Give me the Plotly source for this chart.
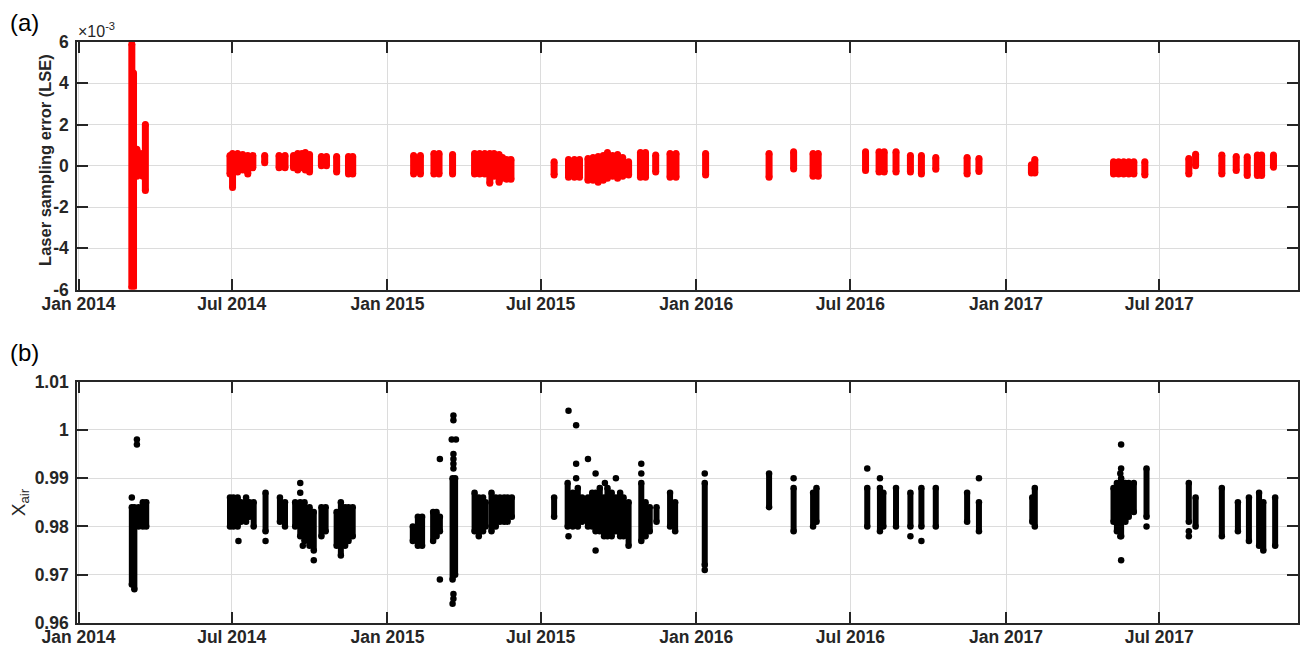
import plotly.graph_objects as go

# ---------------- data ----------------
# Panel (a): laser sampling error, values in units of 1e-3; each sampling day drawn as a column lo..hi
lse_dates = [
    "2014-03-05", "2014-03-07", "2014-03-11", "2014-03-14", "2014-03-18", "2014-03-21",
    "2014-06-29", "2014-07-02", "2014-07-08", "2014-07-14", "2014-07-20", "2014-07-26", "2014-08-09",
    "2014-08-26", "2014-09-02", "2014-09-12", "2014-09-17", "2014-09-22", "2014-09-26", "2014-10-01",
    "2014-10-15", "2014-10-21", "2014-11-02", "2014-11-16", "2014-11-21",
    "2015-02-01", "2015-02-09", "2015-02-25", "2015-03-03", "2015-03-19", "2015-04-14", "2015-04-20",
    "2015-04-26", "2015-05-02", "2015-05-07", "2015-05-13", "2015-05-17", "2015-05-22", "2015-05-27",
    "2015-07-17", "2015-08-03", "2015-08-10", "2015-08-16", "2015-08-26", "2015-09-01", "2015-09-07",
    "2015-09-13", "2015-09-18", "2015-09-24", "2015-09-30", "2015-10-06", "2015-10-13", "2015-10-27",
    "2015-11-02", "2015-11-14", "2015-12-01", "2015-12-08",
    "2016-01-12", "2016-03-27", "2016-04-25", "2016-05-18", "2016-05-24", "2016-07-19", "2016-08-04",
    "2016-08-10", "2016-08-24", "2016-09-10", "2016-09-23", "2016-10-10", "2016-11-16", "2016-11-30",
    "2017-01-31", "2017-02-04", "2017-05-08", "2017-05-14", "2017-05-20", "2017-05-26", "2017-06-01",
    "2017-06-14", "2017-08-05", "2017-08-13", "2017-09-13", "2017-09-30", "2017-10-13", "2017-10-25",
    "2017-10-30", "2017-11-13",
]
lse_low = [
    -5.9, -5.9, -0.5, -0.3, -0.5, -1.2,
    -0.4, -1.05, -0.3, -0.2, -0.4, -0.1, 0.15, -0.1, -0.1, -0.1, -0.2, -0.1, -0.2, -0.3,
    0.0, 0.0, -0.3, -0.4, -0.4,
    -0.4, -0.4, -0.4, -0.4, -0.4, -0.4, -0.4, -0.4, -0.85, -0.5, -0.8, -0.6, -0.65, -0.65,
    -0.45, -0.55, -0.55, -0.55, -0.7, -0.7, -0.8, -0.7, -0.6, -0.5, -0.6, -0.5, -0.45, -0.55,
    -0.55, -0.3, -0.55, -0.55,
    -0.45, -0.55, -0.15, -0.5, -0.5, -0.23, -0.3, -0.3, -0.3, -0.3, -0.4, -0.17, -0.4, -0.27,
    -0.35, -0.35, -0.4, -0.4, -0.4, -0.4, -0.4, -0.45, -0.4, 0.0, -0.4, -0.23, -0.47, -0.47,
    -0.47, -0.07,
]
lse_high = [
    5.9, 4.5, 0.8, 0.6, 0.6, 2.0,
    0.5, 0.6, 0.6, 0.55, 0.5, 0.5, 0.5, 0.5, 0.5, 0.5, 0.6, 0.6, 0.65, 0.55,
    0.45, 0.45, 0.45, 0.45, 0.45,
    0.5, 0.5, 0.6, 0.6, 0.55, 0.6, 0.6, 0.6, 0.6, 0.6, 0.55, 0.4, 0.3, 0.3,
    0.2, 0.3, 0.3, 0.3, 0.35, 0.4, 0.45, 0.5, 0.65, 0.5, 0.55, 0.4, 0.2, 0.65,
    0.65, 0.52, 0.6, 0.6,
    0.6, 0.6, 0.68, 0.6, 0.6, 0.68, 0.68, 0.68, 0.68, 0.5, 0.5, 0.4, 0.4, 0.36,
    0.05, 0.3, 0.2, 0.2, 0.2, 0.2, 0.2, 0.2, 0.36, 0.56, 0.52, 0.45, 0.44, 0.52,
    0.52, 0.52,
]

# Panel (b): X_air, each sampling day drawn as a column lo..hi, plus isolated points
xair_dates = [
    "2014-03-05", "2014-03-08", "2014-03-13", "2014-03-18", "2014-03-22",
    "2014-06-29", "2014-07-03", "2014-07-08", "2014-07-12", "2014-07-18", "2014-07-22", "2014-07-27",
    "2014-08-10", "2014-08-27", "2014-09-02", "2014-09-14", "2014-09-20", "2014-09-25", "2014-10-01",
    "2014-10-06", "2014-10-15", "2014-10-20", "2014-11-02", "2014-11-07", "2014-11-12", "2014-11-16",
    "2014-11-21",
    "2015-01-31", "2015-02-06", "2015-02-11", "2015-02-24", "2015-02-28", "2015-03-04", "2015-03-19",
    "2015-03-22", "2015-04-14", "2015-04-19", "2015-04-24", "2015-04-27", "2015-05-04", "2015-05-09",
    "2015-05-14", "2015-05-19", "2015-05-23", "2015-05-28",
    "2015-07-17", "2015-08-02", "2015-08-08", "2015-08-14", "2015-08-19", "2015-08-26", "2015-08-31",
    "2015-09-04", "2015-09-09", "2015-09-14", "2015-09-18", "2015-09-23", "2015-09-28", "2015-10-03",
    "2015-10-07", "2015-10-13", "2015-10-28", "2015-11-02", "2015-11-07", "2015-11-15", "2015-12-01",
    "2015-12-07",
    "2016-01-11", "2016-03-27", "2016-04-25", "2016-05-18", "2016-05-22", "2016-07-21", "2016-08-05",
    "2016-08-09", "2016-08-24", "2016-09-10", "2016-09-23", "2016-10-10", "2016-11-16", "2016-11-30",
    "2017-02-01", "2017-02-04", "2017-05-08", "2017-05-12", "2017-05-17", "2017-05-22", "2017-05-26",
    "2017-06-01", "2017-06-16", "2017-08-05", "2017-08-13", "2017-09-13", "2017-10-02", "2017-10-15",
    "2017-10-27", "2017-11-01", "2017-11-15",
]
xair_low = [
    0.968, 0.967, 0.980, 0.980, 0.980,
    0.980, 0.980, 0.980, 0.981, 0.981, 0.982, 0.980, 0.979, 0.981, 0.980, 0.980, 0.978, 0.977,
    0.976, 0.975, 0.978, 0.979, 0.976, 0.974, 0.976, 0.977, 0.978,
    0.977, 0.976, 0.976, 0.977, 0.978, 0.979, 0.969, 0.970, 0.979, 0.978, 0.979, 0.980, 0.979,
    0.980, 0.981, 0.981, 0.981, 0.982,
    0.982, 0.980, 0.980, 0.980, 0.981, 0.980, 0.980, 0.979, 0.979, 0.978, 0.978, 0.978, 0.979,
    0.978, 0.978, 0.976, 0.977, 0.978, 0.979, 0.981, 0.980, 0.979,
    0.972, 0.984, 0.979, 0.980, 0.981, 0.980, 0.979, 0.980, 0.980, 0.980, 0.980, 0.980, 0.981, 0.979,
    0.981, 0.980, 0.981, 0.979, 0.978, 0.981, 0.982, 0.983, 0.982, 0.981, 0.980, 0.978, 0.979,
    0.977, 0.976, 0.975, 0.976,
]
xair_high = [
    0.984, 0.984, 0.984, 0.985, 0.985,
    0.986, 0.986, 0.986, 0.985, 0.986, 0.985, 0.985, 0.987, 0.986, 0.985, 0.985, 0.985, 0.985,
    0.984, 0.983, 0.984, 0.984, 0.983, 0.985, 0.984, 0.984, 0.984,
    0.980, 0.982, 0.982, 0.983, 0.983, 0.982, 0.990, 0.990, 0.987, 0.986, 0.986, 0.985, 0.987,
    0.986, 0.986, 0.986, 0.986, 0.986,
    0.986, 0.989, 0.987, 0.988, 0.986, 0.986, 0.987, 0.987, 0.988, 0.986, 0.988, 0.987, 0.986,
    0.987, 0.986, 0.985, 0.989, 0.985, 0.984, 0.984, 0.987, 0.985,
    0.989, 0.991, 0.988, 0.987, 0.988, 0.988, 0.988, 0.987, 0.988, 0.987, 0.988, 0.988, 0.987, 0.985,
    0.986, 0.988, 0.988, 0.989, 0.990, 0.989, 0.989, 0.989, 0.992, 0.989, 0.986, 0.988, 0.985,
    0.986, 0.987, 0.985, 0.986,
]
xair_point_dates = [
    "2014-03-05", "2014-03-11", "2014-03-11",
    "2014-07-09", "2014-08-10", "2014-09-20", "2014-09-20", "2014-09-23", "2014-10-06",
    "2015-03-04", "2015-03-04", "2015-03-20", "2015-03-20", "2015-03-18", "2015-03-23", "2015-03-20",
    "2015-03-20", "2015-03-20", "2015-03-20", "2015-03-20", "2015-03-20", "2015-03-19",
    "2015-08-03", "2015-08-12", "2015-08-12", "2015-08-12", "2015-08-03", "2015-08-26", "2015-09-04",
    "2015-09-04", "2015-09-15", "2015-09-28", "2015-10-28", "2015-10-28",
    "2016-01-11", "2016-01-11", "2016-04-25", "2016-07-21", "2016-08-05", "2016-09-10", "2016-09-23",
    "2016-11-30",
    "2017-05-17", "2017-05-17", "2017-05-16", "2017-05-16", "2017-05-16", "2017-05-17", "2017-06-16",
    "2017-08-05", "2017-08-05",
]
xair_point_values = [
    0.986, 0.998, 0.997,
    0.977, 0.977, 0.989, 0.987, 0.976, 0.973,
    0.994, 0.969, 1.003, 1.002, 0.998, 0.998, 0.995,
    0.994, 0.993, 0.992, 0.966, 0.965, 0.964,
    1.004, 1.001, 0.993, 0.990, 0.978, 0.994, 0.991,
    0.975, 0.989, 0.990, 0.993, 0.991,
    0.991, 0.971, 0.990, 0.992, 0.990, 0.978, 0.977,
    0.990,
    0.997, 0.992, 0.991, 0.979, 0.978, 0.973, 0.980,
    0.979, 0.978,
]

x_tick_dates = ["2014-01-01", "2014-07-01", "2015-01-01", "2015-07-01",
                "2016-01-01", "2016-07-01", "2017-01-01", "2017-07-01"]
x_tick_labels = ["Jan 2014", "Jul 2014", "Jan 2015", "Jul 2015",
                 "Jan 2016", "Jul 2016", "Jan 2017", "Jul 2017"]
lse_ticks = [-6, -4, -2, 0, 2, 4, 6]
xair_ticks = [0.96, 0.97, 0.98, 0.99, 1.00, 1.01]
xair_tick_labels = ["0.96", "0.97", "0.98", "0.99", "1", "1.01"]


def columns(dates, lo, hi):
    xs, ys = [], []
    for d, a, b in zip(dates, lo, hi):
        xs += [d, d, None]
        ys += [a, b, None]
    return xs, ys


FONT = "Liberation Sans, Arial, Helvetica, sans-serif"
AX = "#262626"

fig = go.Figure()
lx, ly = columns(lse_dates, lse_low, lse_high)
fig.add_trace(go.Scatter(x=lx, y=ly, mode="lines+markers", xaxis="x", yaxis="y",
                         line=dict(color="#ff0000", width=7),
                         marker=dict(color="#ff0000", size=7),
                         showlegend=False, hoverinfo="skip"))
bx, by = columns(xair_dates, xair_low, xair_high)
fig.add_trace(go.Scatter(x=bx, y=by, mode="lines+markers", xaxis="x2", yaxis="y2",
                         line=dict(color="#000000", width=6),
                         marker=dict(color="#000000", size=6.5),
                         showlegend=False, hoverinfo="skip"))
fig.add_trace(go.Scatter(x=xair_point_dates, y=xair_point_values, mode="markers",
                         xaxis="x2", yaxis="y2",
                         marker=dict(color="#000000", size=6.5),
                         showlegend=False, hoverinfo="skip"))

tickfont = dict(family=FONT, size=17.5, color=AX, weight="bold")
common = dict(showline=True, linecolor=AX, linewidth=1.6, mirror="ticks",
              ticks="inside", ticklen=11, tickwidth=1.6, tickcolor=AX,
              showgrid=True, gridcolor="#dcdcdc", gridwidth=1.2, zeroline=False,
              tickfont=tickfont, automargin=False)
xrange = ["2013-12-30 05:00", "2017-12-12"]

# the page body adds an 8 px offset, so the figure is 8 px smaller on each side
fig.update_layout(
    width=1301, height=638,
    margin=dict(l=69, r=11, t=34, b=23),
    paper_bgcolor="white", plot_bgcolor="white",
    xaxis=dict(domain=[0, 1], anchor="y", type="date", range=xrange,
               tickmode="array", tickvals=x_tick_dates, ticktext=x_tick_labels,
               ticklabelstandoff=-2, **common),
    yaxis=dict(domain=[0.5738, 1], anchor="x", range=[-6, 6],
               tickmode="array", tickvals=lse_ticks, ticktext=[str(t) for t in lse_ticks],
               ticklabelstandoff=3, **common),
    xaxis2=dict(domain=[0, 1], anchor="y2", type="date", range=xrange,
                tickmode="array", tickvals=x_tick_dates, ticktext=x_tick_labels,
                ticklabelstandoff=-3, **common),
    yaxis2=dict(domain=[0, 0.4153], anchor="x2", range=[0.96, 1.01],
                tickmode="array", tickvals=xair_ticks, ticktext=xair_tick_labels,
                ticklabelstandoff=3, **common),
    annotations=[
        dict(text="(a)", xref="paper", yref="paper", x=-0.0565, y=1.034,
             xanchor="left", yanchor="middle", showarrow=False,
             font=dict(family=FONT, size=24, color="#000000")),
        dict(text="(b)", xref="paper", yref="paper", x=-0.0565, y=0.4664,
             xanchor="left", yanchor="middle", showarrow=False,
             font=dict(family=FONT, size=24, color="#000000")),
        dict(text="×10<sup>-3</sup>", xref="paper", yref="paper", x=-0.001, y=1.0,
             xanchor="left", yanchor="bottom", showarrow=False,
             font=dict(family=FONT, size=16, color=AX)),
        dict(text="Laser sampling error (LSE)", xref="paper", yref="paper",
             x=-0.0262, y=0.797, textangle=-90, xanchor="center", yanchor="middle",
             showarrow=False, font=dict(family=FONT, size=16.5, color=AX, weight="bold")),
        dict(text="X<sub>air</sub>", xref="paper", yref="paper",
             x=-0.0467, y=0.2077, textangle=-90, xanchor="center", yanchor="middle",
             showarrow=False, font=dict(family=FONT, size=19, color=AX)),
    ],
)

fig.write_html("out.html")
